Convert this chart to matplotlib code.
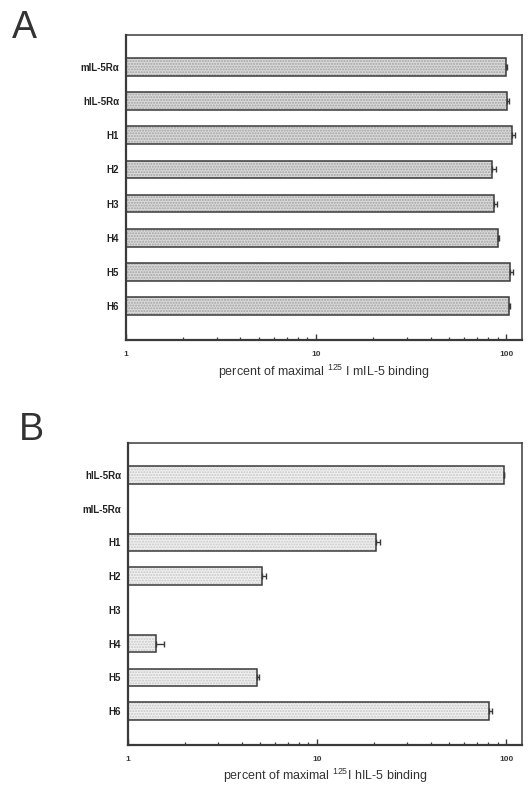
import numpy as np
import matplotlib
matplotlib.use("Agg")
import matplotlib.pyplot as plt
from matplotlib.ticker import FixedLocator, LogLocator, NullFormatter, FuncFormatter

# ── data ────────────────────────────────────────────────────
labels_a = ["mIL-5Rα", "hIL-5Rα", "H1", "H2", "H3", "H4", "H5", "H6"]
values_a = [100, 101, 107, 84, 86.5, 91, 105, 103.5]
errors_a = [0.5, 3, 4, 4, 3, 1, 4, 1]

labels_b = ["hIL-5Rα", "mIL-5Rα", "H1", "H2", "H3", "H4", "H5", "H6"]
values_b = [97, 0, 20.4, 5.1, 0, 1.40, 4.8, 81]
errors_b = [0.5, 0, 1.2, 0.25, 0, 0.15, 0.15, 3]

xlabel_a = r"percent of maximal $^{\mathregular{125}}$ I mIL-5 binding"
xlabel_b = r"percent of maximal $^{\mathregular{125}}$I hIL-5 binding"

plt.rcParams["font.family"] = ["Liberation Sans", "DejaVu Sans"]
plt.rcParams["hatch.linewidth"] = 1.0
plt.rcParams["mathtext.fontset"] = "custom"
plt.rcParams["mathtext.rm"] = "Liberation Sans"

EDGE = "#3a3a3a"


def draw_panel(ax, labels, values, errors, face, dots, xlabel):
    vals = np.array(values, dtype=float)
    errs = np.array(errors, dtype=float)
    ypos = np.arange(len(labels))
    keep = vals > 0

    # stipple layer, then the outline on top
    ax.barh(ypos[keep], vals[keep] - 1, left=1, height=0.52,
            color=face, hatch="......", edgecolor=dots, linewidth=0, zorder=2)
    ax.barh(ypos[keep], vals[keep] - 1, left=1, height=0.52,
            facecolor="none", edgecolor=EDGE, linewidth=1.1, zorder=3)
    ax.errorbar(vals[keep], ypos[keep],
                xerr=[np.zeros(keep.sum()), errs[keep]],
                fmt="none", ecolor=EDGE, elinewidth=1.0, capsize=2.2,
                capthick=1.0, zorder=4)

    ax.set_xscale("log")
    ax.set_xlim(1, 121)
    ax.set_ylim(len(labels) - 1 + 1.0, -0.95)

    ax.set_yticks(ypos)
    ax.set_yticklabels(labels, fontsize=7, fontweight="bold", color="#222222")
    ax.tick_params(axis="y", length=0, pad=5)

    ax.xaxis.set_major_locator(FixedLocator([1, 10, 100]))
    ax.xaxis.set_major_formatter(FuncFormatter(lambda v, p: f"{v:g}"))
    ax.xaxis.set_minor_locator(LogLocator(base=10, subs=np.arange(2, 10)))
    ax.xaxis.set_minor_formatter(NullFormatter())
    ax.tick_params(axis="x", which="major", direction="in", length=4,
                   width=1.0, labelsize=6, pad=8, colors=EDGE)
    ax.tick_params(axis="x", which="minor", direction="in", length=2.5,
                   width=0.9, colors=EDGE)
    for lab in ax.get_xticklabels():
        lab.set_fontweight("bold")

    for side in ax.spines.values():
        side.set_color(EDGE)
        side.set_linewidth(1.1)
    ax.spines["bottom"].set_linewidth(1.6)
    ax.spines["left"].set_linewidth(1.6)

    ax.set_xlabel(xlabel, fontsize=9, color="#333333", labelpad=3)


fig = plt.figure(figsize=(5.28, 7.89), dpi=100)
ax_a = fig.add_axes([0.2386, 0.569, 0.75, 0.387])
ax_b = fig.add_axes([0.2424, 0.0558, 0.746, 0.383])

draw_panel(ax_a, labels_a, values_a, errors_a, "#dadada", "#a2a2a2", xlabel_a)
draw_panel(ax_b, labels_b, values_b, errors_b, "#f1f1f1", "#c6c6c6", xlabel_b)

fig.text(0.022, 0.987, "A", fontsize=27, color="#333333", va="top", ha="left")
fig.text(0.036, 0.478, "B", fontsize=27, color="#333333", va="top", ha="left")

fig.savefig("out.png", dpi=100, facecolor="white")
